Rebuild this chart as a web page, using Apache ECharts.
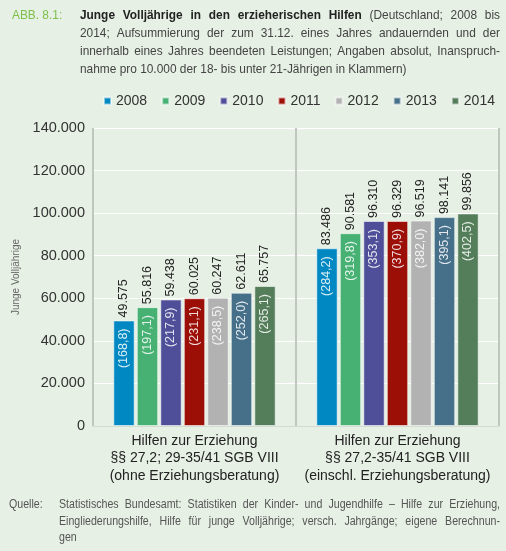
<!DOCTYPE html>
<html>
<head>
<meta charset="utf-8">
<script src="https://cdn.jsdelivr.net/npm/echarts@6/dist/echarts.min.js"></script>
<style>
  html, body { margin: 0; padding: 0; background: #e6f0e4; }
  #chart { width: 506px; height: 551px; }
</style>
</head>
<body>
<div id="chart"></div>
<script>
// Kategorien (x-Achse)
var categories = [
  'Hilfen zur Erziehung\n§§ 27,2; 29-35/41 SGB VIII\n(ohne Erziehungsberatung)',
  'Hilfen zur Erziehung\n§§ 27,2-35/41 SGB VIII\n(einschl. Erziehungsberatung)'
];
var years = ['2008', '2009', '2010', '2011', '2012', '2013', '2014'];
// absolute Zahlen je Jahr
var ohneEB = [49575, 55816, 59438, 60025, 60247, 62611, 65757];
var mitEB = [83486, 90581, 96310, 96329, 96519, 98141, 99856];
// Inanspruchnahme pro 10.000
var quoteOhne = ['168,8', '197,1', '217,9', '231,1', '238,5', '252,0', '265,1'];
var quoteMit = ['284,2', '319,8', '353,1', '370,9', '382,0', '395,1', '402,5'];
var yTicks = [0, 20000, 40000, 60000, 80000, 100000, 120000, 140000];

var titleLines = [
  'Junge Volljährige in den erzieherischen Hilfen (Deutschland; 2008 bis',
  '2014; Aufsummierung der zum 31.12. eines Jahres andauernden und der',
  'innerhalb eines Jahres beendeten Leistungen; Angaben absolut, Inanspruch-',
  'nahme pro 10.000 der 18- bis unter 21-Jährigen in Klammern)'
];
var sourceLines = [
  'Statistisches Bundesamt: Statistiken der Kinder- und Jugendhilfe – Hilfe zur Erziehung,',
  'Eingliederungshilfe, Hilfe für junge Volljährige; versch. Jahrgänge; eigene Berechnun-',
  'gen'
];

var colors = ['#0088c2', '#47b173', '#4e4f98', '#9c0f07', '#b2b2b2', '#466f8a', '#547e5a'];
var FONT = '"Liberation Sans", Arial, sans-serif';

function fmt(v) {
  return String(v).replace(/\B(?=(\d{3})+(?!\d))/g, '.');
}

// Blocksatz: jedes Wort als eigener Text
var ctx = document.createElement('canvas').getContext('2d');
function justify(lines, x, y0, width, lineH, size, sx, color, boldWords) {
  var out = [];
  lines.forEach(function (line, li) {
    var words = line.split(' ');
    var ws = words.map(function (w, wi) {
      var bold = li === 0 && wi < boldWords;
      ctx.font = (bold ? 'bold ' : '') + size + 'px "Liberation Sans"';
      return { w: w, bold: bold, width: ctx.measureText(w).width * sx };
    });
    var total = ws.reduce(function (a, b) { return a + b.width; }, 0);
    var last = li === lines.length - 1;
    var gap = last ? size * 0.28 * sx : (width - total) / (ws.length - 1);
    var cx = x;
    ws.forEach(function (o) {
      out.push({
        type: 'text', x: cx, y: y0 + li * lineH, scaleX: sx,
        style: {
          text: o.w, fontSize: size, fontFamily: FONT, fontWeight: o.bold ? 'bold' : 'normal',
          fill: o.bold ? '#222' : color, verticalAlign: 'middle'
        }
      });
      cx += o.width + gap;
    });
  });
  return out;
}

var series = [];
years.forEach(function (y, i) {
  series.push({
    name: y,
    type: 'bar',
    stack: y,
    barCategoryGap: '20%',
    barGap: '10%',
    itemStyle: { color: colors[i], borderColor: 'rgba(255,255,255,0.55)', borderWidth: 1 },
    label: {
      show: true,
      position: 'insideTop',
      rotate: 90,
      align: 'right',
      verticalAlign: 'middle',
      distance: 8,
      fontFamily: FONT,
      fontSize: 12.5,
      color: 'rgba(255,255,255,0.85)',
      formatter: function (p) { return '(' + (p.dataIndex === 0 ? quoteOhne[i] : quoteMit[i]) + ')'; }
    },
    data: [ohneEB[i], mitEB[i]]
  });
  // Null-Balken oben drauf fuer den absoluten Wert
  series.push({
    name: y + ' Wert',
    type: 'bar',
    stack: y,
    silent: true,
    itemStyle: { color: 'transparent' },
    label: {
      show: true,
      position: 'top',
      rotate: 90,
      align: 'left',
      verticalAlign: 'middle',
      distance: 3,
      fontFamily: FONT,
      fontSize: 12.5,
      color: '#222',
      formatter: function (p) { return fmt(p.dataIndex === 0 ? ohneEB[i] : mitEB[i]); }
    },
    data: [0, 0]
  });
});

var graphics = [
  { type: 'text', x: 12, y: 15, scaleX: 0.88, style: { text: 'ABB. 8.1:', fontSize: 13.5, fontFamily: FONT, fill: '#7cbf4a', verticalAlign: 'middle' } },
  { type: 'text', x: 9, y: 505, scaleX: 0.85, style: { text: 'Quelle:', fontSize: 12.5, fontFamily: FONT, fill: '#555', verticalAlign: 'middle' } }
].concat(
  justify(titleLines, 80, 15, 420, 18, 13.5, 0.88, '#444', 6),
  justify(sourceLines, 59, 505, 441, 16.5, 12.5, 0.85, '#555', 0)
);

var chart = echarts.init(document.getElementById('chart'));
chart.setOption({
  backgroundColor: '#e6f0e4',
  animation: false,
  textStyle: { fontFamily: FONT },
  legend: {
    data: years,
    left: 98,
    top: 89,
    icon: 'rect',
    itemWidth: 7,
    itemHeight: 7,
    itemGap: 14,
    textStyle: { fontSize: 14, color: '#333' }
  },
  grid: { left: 93, right: 7, top: 128, bottom: 125 },
  xAxis: {
    type: 'category',
    data: categories,
    axisLine: { show: true, lineStyle: { color: '#d4dcd2' } },
    axisTick: { show: false },
    splitLine: { show: true, lineStyle: { color: '#c2c6c0', width: 2 } },
    axisLabel: { interval: 0, hideOverlap: false, margin: 6, fontSize: 14, lineHeight: 17.5, color: '#222' }
  },
  yAxis: {
    type: 'value',
    min: yTicks[0],
    max: yTicks[yTicks.length - 1],
    interval: 20000,
    name: 'Junge Volljährige',
    nameLocation: 'middle',
    nameGap: 72,
    nameTextStyle: { fontSize: 10, color: '#666' },
    axisLine: { show: false },
    axisTick: { show: false },
    splitLine: { lineStyle: { color: '#ffffff', width: 1 } },
    axisLabel: { fontSize: 14.5, color: '#333', margin: 8, formatter: function (v) { return fmt(v); } }
  },
  graphic: graphics,
  series: series
});
</script>
</body>
</html>
